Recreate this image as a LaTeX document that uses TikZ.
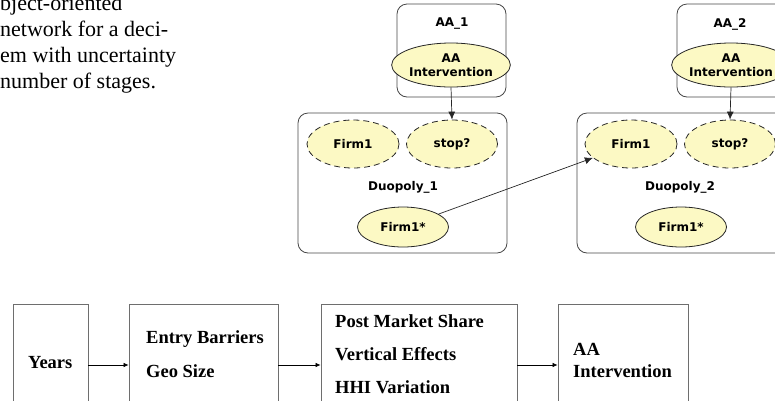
\documentclass[tikz,border=0pt]{standalone}
\usepackage{fontspec}
\setmainfont{Liberation Serif}
\newfontfamily\dvs{DejaVu Sans}
\usetikzlibrary{arrows.meta,shapes.geometric}
\definecolor{ellfill}{RGB}{252,249,196}
\definecolor{boxline}{RGB}{70,70,70}
\definecolor{flowline}{RGB}{110,110,110}
\begin{document}
\begin{tikzpicture}[x=1pt,y=-1pt,
  frame/.style={draw=boxline, rounded corners=10pt, line width=0.8pt, inner sep=0pt},
  var/.style={ellipse, draw=black!85, fill=ellfill, inner sep=0pt, line width=0.8pt,
    font=\dvs\bfseries\fontsize{12}{14}\selectfont, align=center},
  ghost/.style={var, dash pattern=on 6pt off 4pt},
  lbl/.style={font=\dvs\bfseries\fontsize{12}{14}\selectfont, inner sep=0pt},
  flowbox/.style={draw=flowline, line width=0.8pt, inner sep=0pt},
  flowtxt/.style={font=\bfseries\fontsize{18.5}{22}\selectfont, anchor=base west, inner sep=0pt},
  captxt/.style={font=\fontsize{22}{26}\selectfont, anchor=base west, inner sep=0pt},
  link/.style={-{Latex[length=8pt,width=7pt]}, line width=0.7pt, black!85},
  flow/.style={-{Latex[length=5pt,width=4.5pt]}, line width=0.7pt, black}
]
\useasboundingbox (0,0) rectangle (775,400);
\clip (0,0) rectangle (775,400);

% caption text (cut at the left edge)
\node[captxt] (c1) at (0,10) {bject-oriented};
\node[captxt] (c2) at (0,36) {network for a deci-};
\node[captxt] (c3) at (0,62) {em with uncertainty};
\node[captxt] (c4) at (0,88) {number of stages.};

% stage 1
\node[frame, minimum width=109pt, minimum height=93pt] (aa1box) at (451.5,50.5) {};
\node[lbl] (aa1lbl) at (452,24) {AA\_1};
\node[var, minimum width=89pt, minimum height=44pt] (aai1) at (451,65) {AA\\Intervention};

\node[frame, minimum width=209pt, minimum height=140pt] (duo1box) at (402.5,183) {};
\node[ghost, minimum width=92pt, minimum height=48pt] (firm1a) at (353,144) {Firm1};
\node[ghost, minimum width=91pt, minimum height=48pt] (stop1) at (452,144) {stop?};
\node[lbl] (duo1lbl) at (403,187) {Duopoly\_1};
\node[var, minimum width=91pt, minimum height=40pt] (fstar1) at (403,227) {Firm1*};

% stage 2
\node[frame, minimum width=109pt, minimum height=93pt] (aa2box) at (731.5,50.5) {};
\node[lbl] (aa2lbl) at (730,24) {AA\_2};
\node[var, minimum width=89pt, minimum height=44pt] (aai2) at (731,65) {AA\\Intervention};

\node[frame, minimum width=209pt, minimum height=140pt] (duo2box) at (681.5,183) {};
\node[ghost, minimum width=92pt, minimum height=48pt] (firm1b) at (631,144) {Firm1};
\node[ghost, minimum width=91pt, minimum height=48pt] (stop2) at (730,144) {stop?};
\node[lbl] (duo2lbl) at (680,187) {Duopoly\_2};
\node[var, minimum width=91pt, minimum height=40pt] (fstar2) at (681,227) {Firm1*};

\draw[link] (aai1.south) -- (stop1.north);
\draw[link] (aai2.south) -- (stop2.north);
\draw[link] (fstar1) -- (firm1b);

% bottom flow
\node[flowbox, minimum width=75pt, minimum height=122pt] (years) at (50.5,365) {};
\node[flowbox, minimum width=149pt, minimum height=122pt] (entry) at (203.5,365) {};
\node[flowbox, minimum width=196pt, minimum height=122pt] (post) at (419,365) {};
\node[flowbox, minimum width=130pt, minimum height=122pt] (aabox) at (623,365) {};

\node[flowtxt] (tyears) at (28,368) {Years};
\node[flowtxt] (tentry) at (146,343) {Entry Barriers};
\node[flowtxt] (tgeo) at (146,377) {Geo Size};
\node[flowtxt] (tpost) at (335,327) {Post Market Share};
\node[flowtxt] (tvert) at (335,360) {Vertical Effects};
\node[flowtxt] (thhi) at (335,393) {HHI Variation};
\node[flowtxt] (taa) at (573,355) {AA};
\node[flowtxt] (tint) at (573,377) {Intervention};

\draw[flow] (years.east) -- (entry.west);
\draw[flow] (entry.east) -- (post.west);
\draw[flow] (post.east) -- (aabox.west);
\end{tikzpicture}
\end{document}
